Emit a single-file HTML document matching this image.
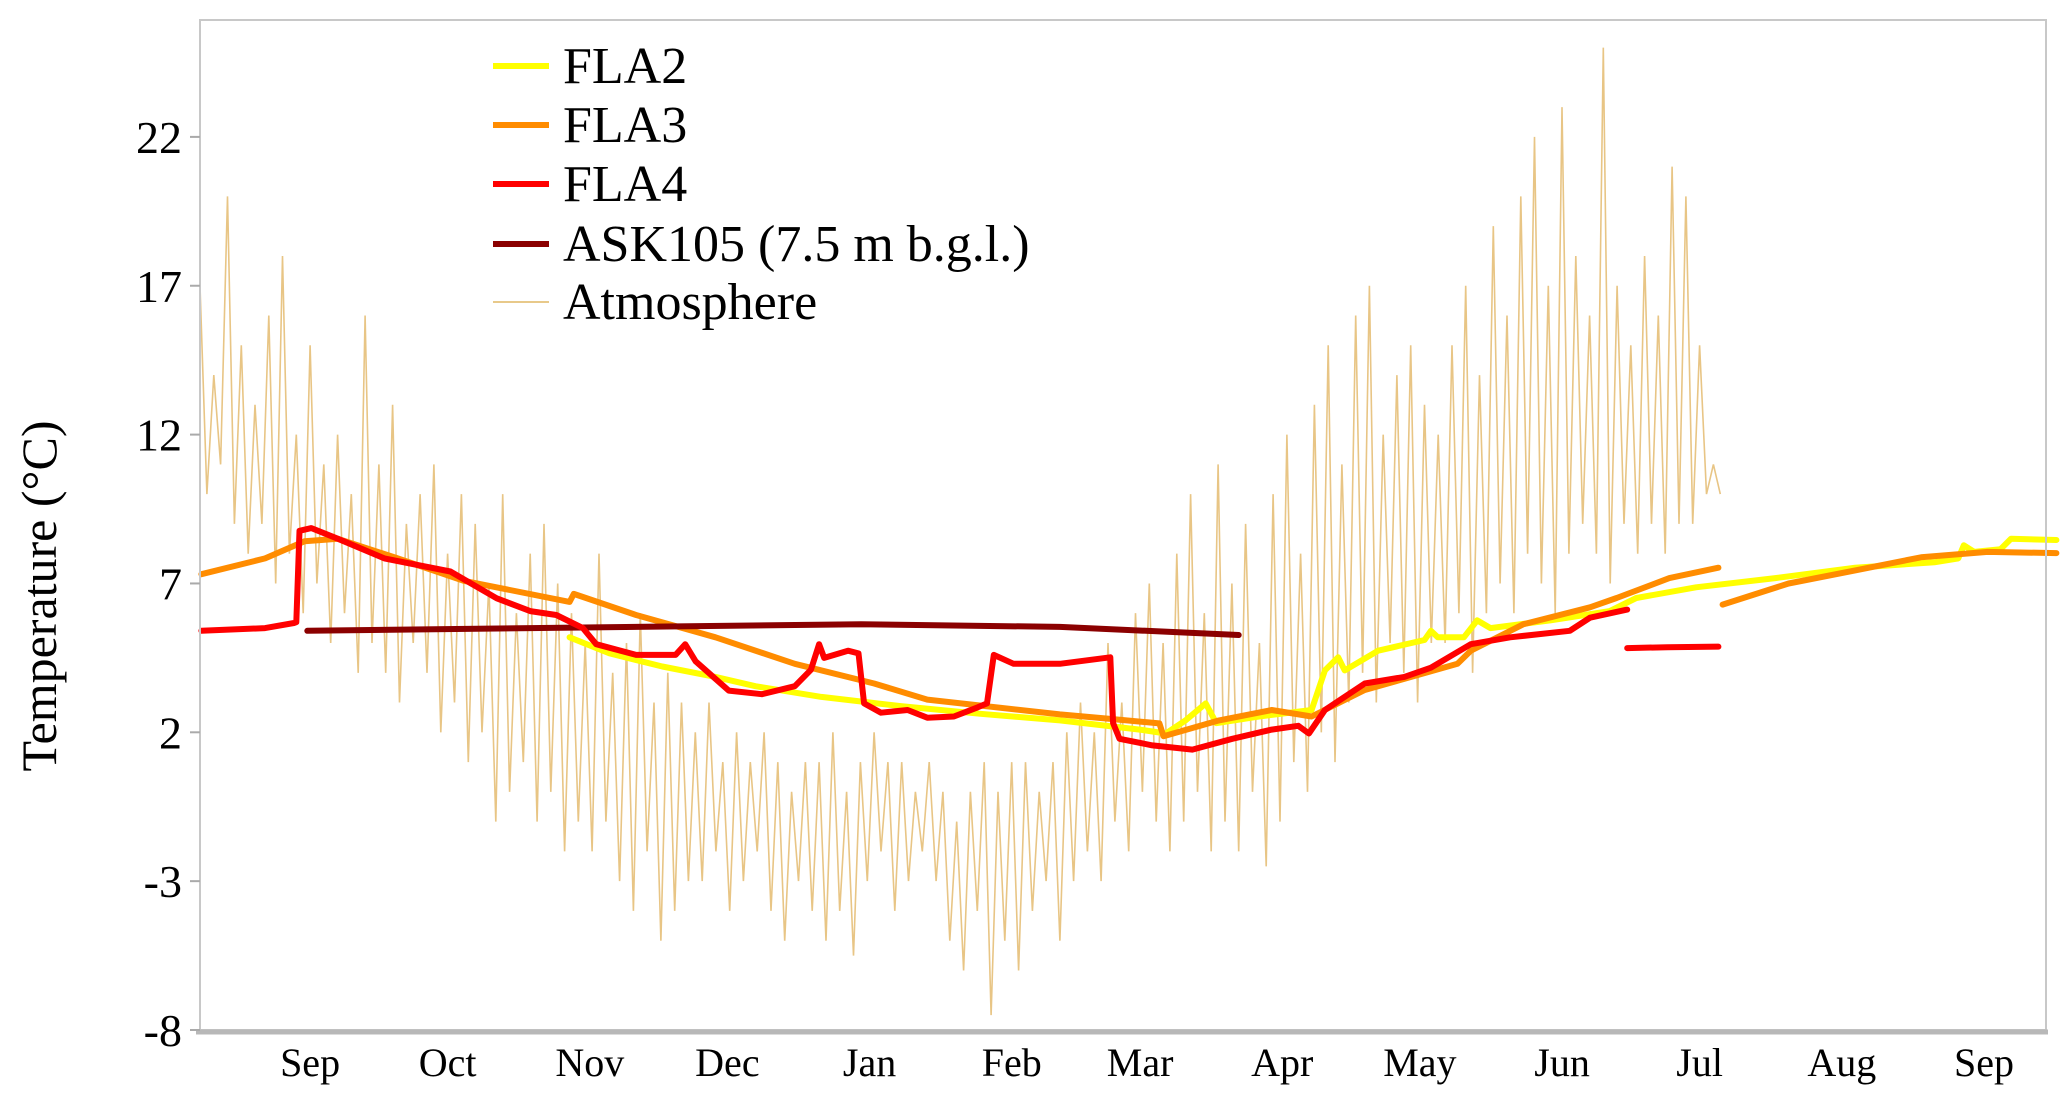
<!DOCTYPE html>
<html><head><meta charset="utf-8"><title>Temperature chart</title>
<style>
html,body{margin:0;padding:0;background:#fff;}
svg{display:block;font-family:"Liberation Serif","Times New Roman",serif;}
</style></head>
<body>
<svg id="chart" width="2067" height="1105" viewBox="0 0 2067 1105" xmlns="http://www.w3.org/2000/svg">
  <rect x="0" y="0" width="2067" height="1105" fill="#fff"/>
  <g id="plot"></g>
  <g id="axes"></g>
  <g id="legend"></g>
</svg>
<script>
// ---- data (day = days since Aug 1, value = °C) ----
const monthLabels = ["Sep","Oct","Nov","Dec","Jan","Feb","Mar","Apr","May","Jun","Jul","Aug","Sep"];
const monthStartDays = [31,61,92,122,153,184,212,243,273,304,334,365,396];
const yTicks = [-8,-3,2,7,12,17,22];

const fla4Days = [20.3,34.2,40.5,41.0,41.7,44.3,50.1,60.2,74.6,84.7,92,97.7,103.5,106.4,115.1,123.7,125.8,128.1,135.3,142.5,149.7,153.2,155,156.1,161.3,163.6,164.8,168.5,174.3,178.6,184.4,189.6,191.6,193.1,197.4,207.5,218.5,219.1,220.5,227.7,236.4,245.1,253.7,259.5,261.8,265.3,274,282.6,288.4,297.1,305.7,318.7,323.1,331.2];
const fla4Vals = [5.41,5.5,5.67,5.7,8.77,8.86,8.5,7.84,7.4,6.5,6.07,5.94,5.5,4.96,4.6,4.6,4.96,4.38,3.4,3.28,3.55,4.1,4.96,4.5,4.74,4.65,2.97,2.66,2.75,2.49,2.53,2.84,2.97,4.6,4.3,4.3,4.52,2.31,1.78,1.56,1.42,1.78,2.09,2.22,1.96,2.75,3.64,3.86,4.17,4.96,5.19,5.41,5.85,6.12];
const fla4bDays = [331.2,340,351.1];
const fla4bVals = [4.83,4.86,4.88];

const fla3Days = [20.3,34.2,42.8,50.1,63.1,77.5,100.6,101.5,115.1,132.4,149.7,167,178.6,207.5,218.5,229.2,230.1,242.2,253.7,262.4,274,294.2,297.1,308.6,323.1,328.9,340.4,351.1];
const fla3Vals = [7.31,7.84,8.42,8.5,7.84,7.09,6.38,6.65,5.94,5.19,4.3,3.64,3.1,2.6,2.45,2.3,1.87,2.4,2.75,2.53,3.42,4.3,4.74,5.63,6.2,6.51,7.18,7.53];
const fla3bDays = [352,366.4,380.9,395.3,409.8,424.8];
const fla3bVals = [6.29,7.0,7.44,7.88,8.06,8.02];

const fla2Days = [100.6,109.3,120.8,132.4,141.1,155.5,172.8,190.2,207.5,224.9,230.6,234.9,239.3,241.6,250.9,262.4,265.3,268.2,269.6,276.9,287,288.4,289.9,295.6,298.5,301.4,314.4,327.4,333.2,346.2,363.5,380.9,398.2,403.4,404.6,406.9,412.6,414.9,424.8];
const fla2Vals = [5.19,4.65,4.21,3.86,3.55,3.19,2.88,2.62,2.4,2.09,1.96,2.4,2.97,2.31,2.53,2.75,4.08,4.52,4.08,4.74,5.1,5.41,5.19,5.19,5.76,5.5,5.76,6.07,6.51,6.87,7.18,7.53,7.71,7.84,8.28,8.06,8.15,8.5,8.46];

const askDays = [43.4,92,164.2,207.5,246.5];
const askVals = [5.41,5.5,5.63,5.54,5.27];

const atmoStartDay = 20;
const atmoStep = 3;
const atmoHigh = [17,14,20,15,13,16,18,12,15, 11,12,10,16,11,13,9,10,11, 8,10,9,7,10,6,8,9,7, 6,5,8,4,5,6,3,4,3, 2,3,1,2,1,2,1,0,1, 1,2,0,1,2,1,1,0,1, 0,-1,0,1,0,1,1,0,1, 2,3,2,5,3,6,7,5,8, 10,6,11,7,9,5,10,12,8, 13,15,11,16,17,12,14,15,13, 12,15,17,14,19,16,20,22,17, 23,18,16,25,17,15,18,16,21, 20,15,11];
const atmoLow = [10,11,9,8,9,7,8,6,7, 5,6,4,5,4,3,5,4,2, 3,1,2,-1,0,1,-1,0,-2, -1,-2,-1,-3,-4,-2,-5,-4,-3, -3,-2,-4,-3,-2,-4,-5,-3,-4, -5,-4,-5.5,-3,-2,-4,-3,-2,-3, -5,-6,-4,-7.5,-5,-6,-4,-3,-5, -3,-2,-3,-1,-2,0,-1,-2,-1, 0,-2,-1,-2,0,-2.5,-1,1,0, 2,1,3,4,3,5,4,3,5, 5,6,4,6,7,6,8,7,6, 8,9,8,7,9,8,9,8,9, 9,10,10];

// ---- scales ----
const X0 = 200, X1 = 2046, Y0 = 20, Y1 = 1030;
const DAY0 = 20, PXDAY = 4.586;
const VMIN = -8, PXV = 29.77;
function xs(d){ return X0 + (d - DAY0) * PXDAY; }
function ys(v){ return Y1 - (v - VMIN) * PXV; }

const NS = "http://www.w3.org/2000/svg";
const plot = document.getElementById("plot");
const axes = document.getElementById("axes");
const legend = document.getElementById("legend");
function mk(tag, attrs, parent){
  const e = document.createElementNS(NS, tag);
  for (const k in attrs) e.setAttribute(k, attrs[k]);
  parent.appendChild(e);
  return e;
}
function pts(days, vals){ return days.map((d,i)=>xs(d).toFixed(1)+","+ys(vals[i]).toFixed(1)).join(" "); }

// atmosphere zigzag
const atmoDays = [], atmoVals = [];
for (let i = 0; i < atmoHigh.length; i++){
  atmoDays.push(atmoStartDay + i*atmoStep); atmoVals.push(atmoHigh[i]);
  atmoDays.push(atmoStartDay + i*atmoStep + atmoStep/2); atmoVals.push(atmoLow[i]);
}
const atmo = mk("polyline",{points:pts(atmoDays,atmoVals),fill:"none",stroke:"#e2b767","stroke-width":"1.6","stroke-opacity":"0.8","stroke-linejoin":"miter"},plot);



function series(days, vals, color, name){
  const p = mk("polyline",{points:pts(days,vals),fill:"none",stroke:color,"stroke-width":"6","stroke-linejoin":"round","stroke-linecap":"round"},plot);
  
  
}
series(fla2Days, fla2Vals, "#ffff00", "fla2-line");
series(fla3Days, fla3Vals, "#ff8c00", "fla3-line");
series(fla3bDays, fla3bVals, "#ff8c00", "fla3-line-second-segment");
series(askDays, askVals, "#8b0000", "ask105-line");
series(fla4Days, fla4Vals, "#ff0000", "fla4-line");
series(fla4bDays, fla4bVals, "#ff0000", "fla4-line-second-segment");

// axes frame
const frame = mk("rect",{x:X0,y:Y0,width:X1-X0,height:Y1-Y0,fill:"none",stroke:"#c8c8c8","stroke-width":"2"},axes);


const xaxis = mk("line",{x1:X0-4,y1:Y1+2,x2:X1+2,y2:Y1+2,stroke:"#b8b8b8","stroke-width":"5"},axes);



yTicks.forEach(v=>{
  const t = mk("line",{x1:X0-10,y1:ys(v),x2:X0,y2:ys(v),stroke:"#aaa","stroke-width":"2"},axes);
  
  
  const l = mk("text",{x:X0-18,y:ys(v)+16,"text-anchor":"end","font-size":"46",fill:"#000"},axes);
  l.textContent = String(v);
  
  
});
monthLabels.forEach((m,i)=>{
  const l = mk("text",{x:xs(monthStartDays[i]+13),y:1076,"text-anchor":"middle","font-size":"40",fill:"#000"},axes);
  l.textContent = m;
  
  
});
const yt = mk("text",{x:0,y:0,transform:"translate(56,596) rotate(-90)","text-anchor":"middle","font-size":"50",fill:"#000"},axes);
yt.textContent = "Temperature (°C)";



// legend
const legNames = ["FLA2","FLA3","FLA4","ASK105 (7.5 m b.g.l.)","Atmosphere"];
const legColors = ["#ffff00","#ff8c00","#ff0000","#8b0000","#e8c98a"];
const legWidths = [6,6,6,6,2];
const legY = [66,125,184,244,302];
legNames.forEach((n,i)=>{
  const g = mk("g",{},legend);
  
  
  mk("line",{x1:493,y1:legY[i],x2:549,y2:legY[i],stroke:legColors[i],"stroke-width":legWidths[i]},g);
  const t = mk("text",{x:563,y:legY[i]+17,"font-size":"52",fill:"#000"},g);
  t.textContent = n;
});
</script>
</body></html>
